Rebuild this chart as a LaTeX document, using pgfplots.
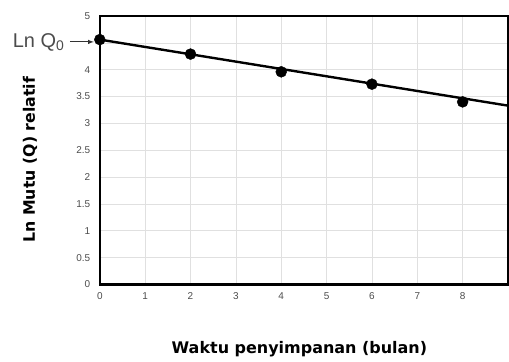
\documentclass[border=0pt]{standalone}
\usepackage{fontspec}
\setmainfont{Liberation Sans}
\newfontfamily\labfont{DejaVu Sans}
\usepackage{pgfplots}
\pgfplotsset{compat=1.18}
\begin{document}
\begin{tikzpicture}
\begin{axis}[
  at={(0,0)}, anchor=south west,
  scale only axis,
  width=409pt, height=269pt,
  xmin=0, xmax=9, ymin=0, ymax=5,
  xtick={0,1,...,8},
  ytick={0,0.5,...,5},
  yticklabels={0,0.5,1,1.5,2,2.5,3,3.5,4,,5},
  grid=major,
  major grid style={draw=black!12, line width=0.6pt},
  axis line style={line width=2.6pt, black},
  tick style={draw=none},
  major tick length=0pt,
  tick label style={font=\fontsize{10}{11}\selectfont, text=black!70},
  /pgf/number format/assume math mode=true,
  xticklabel style={yshift=-5pt},
  yticklabel style={xshift=-6pt},
  clip=false,
]
\addplot[black, line width=2.4pt] coordinates {(0,4.56) (9,3.33)};
\addplot[only marks, mark=*, mark size=5.5pt, black] coordinates {
  (0,4.56) (2,4.29) (4,3.96) (6,3.73) (8,3.40)};
\end{axis}
\node[rotate=90, font=\labfont\bfseries\fontsize{15.8}{18}\selectfont] at (-70pt,125pt) {Ln Mutu (Q) relatif};
\node[font=\labfont\bfseries\fontsize{16}{18}\selectfont] at (200pt,-65pt) {Waktu penyimpanan (bulan)};
\node[anchor=east, text=black!70, font=\fontsize{20}{22}\selectfont] at (-32pt,243pt) {Ln Q\textsubscript{0}};
\draw[-latex, black!80, line width=1pt] (-30pt,243pt) -- (-6pt,243pt);
\pgfresetboundingbox
\path[use as bounding box] (-100pt,-77pt) rectangle (410pt,285pt);
\end{tikzpicture}
\end{document}
